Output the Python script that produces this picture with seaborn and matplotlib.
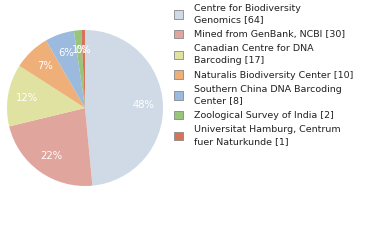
import matplotlib
matplotlib.use("Agg")
import matplotlib.pyplot as plt
import seaborn as sns
from matplotlib.patches import Patch

sns.set_style("white")
plt.rcParams['font.family'] = ['DejaVu Sans']

labels = ["Centre for Biodiversity\nGenomics [64]",
          "Mined from GenBank, NCBI [30]",
          "Canadian Centre for DNA\nBarcoding [17]",
          "Naturalis Biodiversity Center [10]",
          "Southern China DNA Barcoding\nCenter [8]",
          "Zoological Survey of India [2]",
          "Universitat Hamburg, Centrum\nfuer Naturkunde [1]"]
values = [64, 30, 17, 10, 8, 2, 1]
colors = ["#cfdae6", "#e0a69e", "#dfe2a0", "#efaf78", "#9cbadd", "#98c47b", "#d8735a"]

total = sum(values)
pct = [f"{int(v * 100 / total)}%" for v in values]

fig = plt.figure(figsize=(3.8, 2.4), dpi=100)
ax = fig.add_axes([7/380, (240-186)/240, 156/380, 156/240])
wedges, texts = ax.pie(values, colors=colors, startangle=90, counterclock=False,
                       labels=pct, labeldistance=0.75,
                       textprops=dict(color="white", fontsize=7.2),
                       wedgeprops=dict(linewidth=0))
for t in texts:
    t.set_horizontalalignment("center")
    t.set_verticalalignment("center")
ax.set_xlim(-1, 1)
ax.set_ylim(-1, 1)
ax.set_aspect("equal")
ax.axis("off")

handles = [Patch(facecolor=c, edgecolor="#888888", linewidth=0.6) for c in colors]
leg = fig.legend(handles, labels, loc="upper left", bbox_to_anchor=(172/380, 1 - 2/240),
                 frameon=False, fontsize=6.8, handlelength=1.0, handleheight=1.0,
                 handletextpad=1.1, labelspacing=0.55, borderaxespad=0, borderpad=0.2)
for t in leg.get_texts():
    t.set_linespacing(1.38)
    t.set_color("#222222")

fig.savefig("out.png", dpi=100)
